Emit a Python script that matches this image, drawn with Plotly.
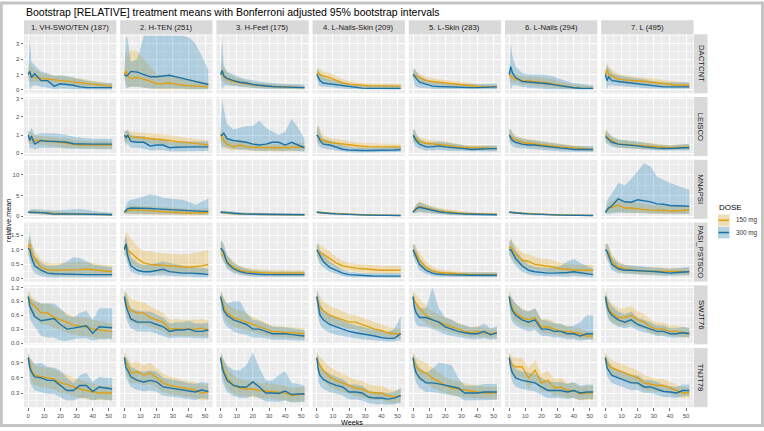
import plotly.graph_objects as go

W, H = 764, 431

WEEKS = [0, 1, 2, 4, 8, 12, 16, 20, 24, 28, 32, 36, 40, 44, 48, 52]
FACETS = ["1. VH-SWO/TEN (187)", "2. H-TEN (251)", "3. H-Feet (175)", "4. L-Nails-Skin (209)",
          "5. L-Skin (283)", "6. L-Nails (294)", "7. L (495)"]
MEASURES = ["DACTCNT", "LEISCO", "MNAPSI", "PASI_PSTSCO", "SWJT76", "TNJT78"]
DOSES = ["150 mg", "300 mg"]
X_TICKS = [0, 10, 20, 30, 40, 50]

# ---------------- DACTCNT ----------------
DACTCNT_150_MEAN = [
    [1.0,1.1,0.9,0.8,0.75,0.7,0.65,0.6,0.55,0.5,0.45,0.4,0.35,0.32,0.28,0.25],
    [1.0,1.25,0.9,0.75,0.8,0.7,0.55,0.4,0.42,0.45,0.38,0.3,0.28,0.25,0.22,0.2],
    [1.0,1.1,0.85,0.7,0.55,0.45,0.4,0.33,0.28,0.25,0.22,0.2,0.18,0.17,0.15,0.15],
    [1.0,1.1,1.0,0.9,0.8,0.6,0.45,0.38,0.32,0.3,0.28,0.27,0.26,0.25,0.25,0.25],
    [1.0,0.95,0.9,0.75,0.6,0.55,0.5,0.45,0.4,0.35,0.3,0.25,0.22,0.2,0.2,0.2],
    [1.0,0.9,0.8,0.7,0.6,0.58,0.55,0.5,0.45,0.38,0.3,0.22,0.15,0.12,0.1,0.1],
    [1.0,1.3,1.0,0.9,0.7,0.65,0.6,0.58,0.55,0.5,0.45,0.4,0.35,0.32,0.3,0.3]]
DACTCNT_150_LO = [
    [0.9,0.5,0.5,0.5,0.5,0.45,0.4,0.35,0.3,0.25,0.2,0.2,0.15,0.12,0.1,0.1],
    [0.9,0.4,0.2,0.2,0.2,0.15,0.1,0.05,0.05,0.05,0.05,0.05,0.05,0.05,0.05,0.05],
    [0.9,0.6,0.5,0.4,0.3,0.25,0.2,0.15,0.12,0.1,0.1,0.08,0.07,0.06,0.05,0.05],
    [0.9,0.8,0.7,0.6,0.5,0.35,0.25,0.2,0.15,0.15,0.12,0.12,0.1,0.1,0.1,0.1],
    [0.9,0.7,0.6,0.5,0.4,0.35,0.3,0.25,0.2,0.18,0.15,0.12,0.1,0.1,0.1,0.1],
    [0.9,0.5,0.5,0.45,0.35,0.3,0.25,0.2,0.15,0.12,0.1,0.08,0.05,0.05,0.05,0.05],
    [0.9,0.8,0.7,0.6,0.45,0.4,0.35,0.33,0.3,0.28,0.25,0.2,0.18,0.15,0.15,0.15]]
DACTCNT_150_HI = [
    [1.2,1.8,1.5,1.3,1.1,1.0,0.95,0.9,0.85,0.8,0.75,0.7,0.6,0.55,0.5,0.45],
    [1.3,2.5,2.2,2.6,2.5,2.0,1.5,1.0,1.0,1.0,0.9,0.8,0.7,0.6,0.55,0.5],
    [1.2,1.8,1.4,1.1,0.85,0.7,0.6,0.5,0.45,0.4,0.38,0.35,0.32,0.3,0.28,0.28],
    [1.3,1.5,1.35,1.2,1.1,0.9,0.7,0.6,0.5,0.45,0.42,0.42,0.4,0.4,0.4,0.4],
    [1.2,1.3,1.2,1.05,0.85,0.75,0.7,0.65,0.6,0.55,0.5,0.42,0.38,0.35,0.33,0.33],
    [1.2,1.5,1.2,1.0,0.9,0.85,0.85,0.8,0.75,0.65,0.55,0.45,0.35,0.3,0.25,0.22],
    [1.2,1.8,1.5,1.3,1.05,0.95,0.9,0.85,0.82,0.78,0.7,0.65,0.6,0.55,0.5,0.5]]
DACTCNT_300_MEAN = [
    [1.0,1.2,0.8,1.05,0.6,0.6,0.25,0.4,0.35,0.3,0.2,0.15,0.15,0.15,0.15,0.15],
    [1.0,0.9,0.95,1.2,1.15,1.0,0.85,0.85,0.9,0.95,0.85,0.75,0.65,0.55,0.45,0.35],
    [1.0,1.25,0.9,0.75,0.6,0.5,0.45,0.35,0.3,0.25,0.22,0.2,0.18,0.17,0.15,0.15],
    [1.0,0.8,0.6,0.45,0.4,0.33,0.28,0.2,0.15,0.12,0.1,0.1,0.1,0.1,0.1,0.1],
    [1.0,0.9,0.75,0.5,0.35,0.25,0.22,0.2,0.18,0.15,0.15,0.15,0.15,0.17,0.18,0.2],
    [1.0,1.5,1.1,0.8,0.55,0.52,0.5,0.45,0.4,0.33,0.26,0.2,0.14,0.11,0.1,0.1],
    [1.0,0.6,0.85,0.6,0.55,0.5,0.45,0.4,0.35,0.3,0.22,0.2,0.2,0.2,0.2,0.2]]
DACTCNT_300_LO = [
    [0.8,0.0,0.2,0.3,0.2,0.15,0.05,0.1,0.08,0.05,0.03,0.02,0.02,0.02,0.02,0.02],
    [0.7,0.1,0.1,0.2,0.2,0.15,0.1,0.1,0.1,0.1,0.1,0.1,0.05,0.05,0.05,0.05],
    [0.8,0.0,0.3,0.3,0.25,0.2,0.15,0.12,0.1,0.08,0.07,0.06,0.05,0.05,0.05,0.05],
    [0.8,0.3,0.25,0.2,0.15,0.12,0.1,0.06,0.04,0.03,0.02,0.02,0.02,0.02,0.02,0.02],
    [0.8,0.3,0.2,0.15,0.1,0.08,0.06,0.05,0.04,0.03,0.03,0.03,0.03,0.04,0.05,0.05],
    [0.7,0.0,0.3,0.3,0.2,0.15,0.1,0.08,0.05,0.04,0.03,0.02,0.02,0.02,0.02,0.02],
    [0.8,0.0,0.3,0.25,0.25,0.2,0.18,0.15,0.12,0.1,0.08,0.07,0.07,0.07,0.07,0.07]]
DACTCNT_300_HI = [
    [1.3,3.3,1.8,1.6,1.2,1.1,0.9,0.95,0.9,0.8,0.7,0.6,0.55,0.5,0.45,0.45],
    [1.5,3.5,3.3,1.8,2.0,3.5,3.5,3.5,3.5,3.5,3.5,3.5,3.4,3.0,2.2,1.3],
    [1.4,3.3,1.6,1.2,1.0,0.8,0.7,0.6,0.55,0.5,0.45,0.42,0.4,0.38,0.36,0.35],
    [1.3,1.3,1.0,0.8,0.7,0.6,0.5,0.4,0.33,0.3,0.28,0.28,0.27,0.27,0.27,0.27],
    [1.3,1.4,1.2,0.9,0.7,0.55,0.5,0.45,0.42,0.4,0.38,0.37,0.37,0.38,0.4,0.42],
    [1.3,3.0,2.2,1.5,1.1,1.0,1.0,1.0,0.95,0.85,0.7,0.55,0.45,0.4,0.35,0.3],
    [1.3,1.6,1.4,1.1,0.95,0.85,0.8,0.75,0.7,0.6,0.55,0.5,0.5,0.5,0.5,0.5]]

# ---------------- LEISCO ----------------
LEISCO_150_MEAN = [
    [0.9,0.85,0.8,0.7,0.7,0.68,0.65,0.6,0.55,0.5,0.45,0.45,0.45,0.45,0.45,0.45],
    [0.9,0.95,0.95,0.9,0.88,0.85,0.82,0.8,0.75,0.7,0.65,0.62,0.6,0.55,0.5,0.45],
    [1.0,0.8,0.7,0.5,0.35,0.45,0.35,0.32,0.3,0.3,0.3,0.3,0.3,0.32,0.33,0.35],
    [1.0,0.9,0.8,0.7,0.6,0.55,0.5,0.45,0.4,0.38,0.36,0.35,0.35,0.35,0.35,0.35],
    [0.95,0.9,0.8,0.65,0.55,0.52,0.5,0.45,0.4,0.35,0.3,0.3,0.3,0.3,0.28,0.25],
    [1.0,0.9,0.85,0.75,0.6,0.55,0.5,0.45,0.4,0.38,0.35,0.32,0.3,0.25,0.22,0.2],
    [1.0,0.9,0.8,0.7,0.5,0.48,0.45,0.42,0.4,0.38,0.35,0.32,0.3,0.32,0.34,0.35]]
LEISCO_150_LO = [
    [0.6,0.5,0.5,0.45,0.45,0.42,0.4,0.35,0.3,0.28,0.25,0.25,0.25,0.25,0.25,0.25],
    [0.6,0.6,0.65,0.65,0.6,0.58,0.55,0.5,0.48,0.45,0.4,0.38,0.35,0.3,0.28,0.25],
    [0.7,0.4,0.3,0.2,0.15,0.2,0.15,0.12,0.1,0.1,0.1,0.1,0.1,0.1,0.1,0.12],
    [0.7,0.6,0.5,0.45,0.4,0.35,0.3,0.28,0.25,0.22,0.2,0.2,0.2,0.2,0.2,0.2],
    [0.7,0.6,0.55,0.45,0.38,0.35,0.32,0.28,0.25,0.2,0.18,0.18,0.18,0.17,0.16,0.15],
    [0.7,0.6,0.6,0.5,0.4,0.35,0.32,0.28,0.25,0.22,0.2,0.18,0.16,0.14,0.12,0.1],
    [0.7,0.6,0.55,0.45,0.32,0.3,0.28,0.26,0.24,0.22,0.2,0.18,0.17,0.18,0.2,0.2]]
LEISCO_150_HI = [
    [1.2,1.2,1.1,1.0,0.95,0.92,0.9,0.85,0.8,0.72,0.68,0.66,0.65,0.65,0.65,0.65],
    [1.2,1.25,1.25,1.2,1.15,1.12,1.1,1.08,1.05,1.0,0.92,0.88,0.85,0.8,0.75,0.7],
    [1.3,1.3,1.1,0.85,0.65,0.75,0.6,0.55,0.52,0.5,0.5,0.5,0.5,0.52,0.55,0.58],
    [1.3,1.6,1.3,1.0,0.85,0.78,0.72,0.65,0.6,0.56,0.54,0.52,0.52,0.52,0.52,0.52],
    [1.2,1.3,1.1,0.9,0.75,0.72,0.7,0.65,0.58,0.52,0.45,0.45,0.45,0.44,0.42,0.4],
    [1.3,1.3,1.15,1.0,0.85,0.78,0.72,0.65,0.6,0.56,0.52,0.48,0.45,0.4,0.35,0.32],
    [1.3,1.3,1.1,0.95,0.75,0.7,0.66,0.62,0.6,0.56,0.52,0.48,0.45,0.47,0.5,0.52]]
LEISCO_300_MEAN = [
    [1.0,0.7,0.95,0.5,0.7,0.65,0.65,0.62,0.6,0.52,0.5,0.5,0.5,0.5,0.5,0.5],
    [1.0,0.85,1.0,0.65,0.6,0.6,0.4,0.45,0.45,0.3,0.33,0.35,0.35,0.35,0.35,0.35],
    [1.0,1.0,1.1,0.8,0.7,0.65,0.6,0.5,0.45,0.5,0.6,0.6,0.45,0.6,0.45,0.3],
    [1.0,0.9,0.7,0.5,0.45,0.35,0.22,0.18,0.15,0.15,0.15,0.15,0.15,0.17,0.18,0.2],
    [1.0,0.85,0.7,0.5,0.35,0.35,0.4,0.35,0.3,0.28,0.25,0.2,0.22,0.25,0.25,0.25],
    [1.0,0.8,0.7,0.6,0.5,0.45,0.45,0.4,0.35,0.3,0.28,0.25,0.2,0.2,0.2,0.2],
    [0.9,0.85,0.75,0.6,0.5,0.48,0.45,0.4,0.35,0.3,0.28,0.26,0.25,0.27,0.3,0.3]]
LEISCO_300_LO = [
    [0.7,0.2,0.3,0.2,0.3,0.3,0.3,0.28,0.25,0.22,0.22,0.22,0.22,0.22,0.22,0.22],
    [0.7,0.4,0.5,0.3,0.3,0.25,0.15,0.18,0.18,0.1,0.12,0.12,0.12,0.12,0.12,0.12],
    [0.6,0.2,0.4,0.3,0.25,0.2,0.2,0.15,0.12,0.12,0.15,0.15,0.12,0.15,0.12,0.08],
    [0.7,0.4,0.35,0.25,0.2,0.15,0.08,0.05,0.04,0.04,0.04,0.04,0.04,0.05,0.06,0.07],
    [0.7,0.4,0.35,0.25,0.15,0.15,0.18,0.15,0.12,0.1,0.1,0.08,0.08,0.1,0.1,0.1],
    [0.7,0.45,0.4,0.3,0.25,0.22,0.2,0.18,0.15,0.12,0.1,0.08,0.07,0.07,0.07,0.07],
    [0.6,0.5,0.45,0.35,0.3,0.28,0.25,0.22,0.2,0.18,0.15,0.13,0.12,0.13,0.15,0.15]]
LEISCO_300_HI = [
    [1.2,1.2,1.4,1.0,1.1,1.1,1.1,1.05,1.0,0.9,0.85,0.82,0.8,0.8,0.8,0.8],
    [1.3,1.2,1.3,1.0,0.95,0.95,0.75,0.8,0.8,0.6,0.62,0.65,0.65,0.65,0.65,0.65],
    [1.4,3.0,2.4,1.6,1.3,1.4,1.5,1.5,1.8,1.4,1.2,1.0,1.2,1.9,1.4,0.8],
    [1.3,1.5,1.1,0.8,0.7,0.6,0.42,0.35,0.3,0.3,0.3,0.3,0.3,0.32,0.34,0.36],
    [1.3,1.3,1.05,0.8,0.6,0.6,0.65,0.6,0.52,0.48,0.45,0.38,0.4,0.42,0.42,0.42],
    [1.3,1.3,1.1,0.9,0.8,0.72,0.7,0.65,0.6,0.55,0.5,0.45,0.4,0.4,0.4,0.4],
    [1.2,1.2,1.1,0.9,0.75,0.72,0.7,0.65,0.58,0.52,0.48,0.45,0.43,0.46,0.5,0.52]]

# ---------------- MNAPSI ----------------
MNAPSI_150_MEAN = [
    [1.0,1.0,1.0,0.95,0.9,0.8,0.65,0.6,0.6,0.55,0.55,0.5,0.5,0.45,0.45,0.4],
    [1.0,1.2,1.4,1.6,1.5,1.4,1.3,1.2,1.1,1.0,0.95,0.9,0.8,0.8,0.85,0.9],
    [1.0,1.0,0.95,0.85,0.7,0.6,0.55,0.5,0.45,0.45,0.4,0.4,0.4,0.4,0.4,0.4],
    [1.0,0.95,0.9,0.85,0.75,0.65,0.55,0.5,0.45,0.4,0.35,0.3,0.28,0.25,0.22,0.2],
    [1.0,1.5,2.0,2.4,2.0,1.6,1.3,1.1,0.9,0.8,0.7,0.6,0.55,0.5,0.5,0.5],
    [1.0,0.95,0.9,0.85,0.75,0.65,0.55,0.5,0.45,0.4,0.35,0.3,0.28,0.25,0.22,0.2],
    [1.0,1.6,2.0,2.2,2.7,2.0,2.0,1.8,1.6,1.5,1.4,1.5,1.3,1.3,1.4,1.6]]
MNAPSI_150_LO = [
    [0.7,0.6,0.6,0.5,0.45,0.4,0.3,0.3,0.3,0.25,0.25,0.25,0.25,0.2,0.2,0.2],
    [0.7,0.5,0.5,0.5,0.45,0.4,0.35,0.3,0.3,0.25,0.25,0.25,0.2,0.2,0.2,0.25],
    [0.7,0.6,0.55,0.5,0.4,0.35,0.3,0.25,0.22,0.22,0.2,0.2,0.2,0.2,0.2,0.2],
    [0.8,0.7,0.65,0.6,0.5,0.45,0.35,0.3,0.28,0.25,0.22,0.18,0.16,0.14,0.12,0.1],
    [0.7,0.8,1.0,1.2,1.0,0.8,0.6,0.5,0.4,0.35,0.3,0.25,0.22,0.2,0.2,0.2],
    [0.8,0.7,0.65,0.6,0.5,0.45,0.35,0.3,0.28,0.25,0.22,0.18,0.16,0.14,0.12,0.1],
    [0.7,0.8,1.0,1.0,1.2,0.9,0.9,0.8,0.7,0.6,0.6,0.6,0.5,0.5,0.55,0.6]]
MNAPSI_150_HI = [
    [1.3,1.4,1.5,1.5,1.4,1.3,1.1,1.0,1.0,0.95,0.9,0.85,0.8,0.75,0.75,0.7],
    [1.3,2.0,2.4,2.7,2.6,2.5,2.4,2.3,2.2,2.0,1.9,1.8,1.7,1.7,1.8,2.0],
    [1.3,1.4,1.35,1.25,1.05,0.9,0.85,0.8,0.7,0.7,0.65,0.65,0.65,0.65,0.65,0.65],
    [1.2,1.2,1.15,1.1,1.0,0.85,0.75,0.7,0.62,0.55,0.5,0.45,0.42,0.38,0.34,0.3],
    [1.3,2.3,3.0,3.6,3.0,2.5,2.1,1.8,1.5,1.3,1.2,1.0,0.9,0.85,0.85,0.85],
    [1.2,1.2,1.15,1.1,1.0,0.85,0.75,0.7,0.62,0.55,0.5,0.45,0.42,0.38,0.34,0.3],
    [1.3,2.6,3.2,3.6,4.5,3.6,3.6,3.3,3.0,2.8,2.6,2.7,2.5,2.5,2.6,2.8]]
MNAPSI_300_MEAN = [
    [1.0,1.0,1.0,1.0,0.9,0.75,0.55,0.6,0.6,0.55,0.5,0.5,0.45,0.45,0.45,0.4],
    [1.0,1.5,1.8,2.0,2.0,2.0,1.9,1.8,1.7,1.6,1.5,1.4,1.3,1.25,1.2,1.2],
    [1.0,1.0,0.95,0.9,0.75,0.6,0.55,0.52,0.5,0.48,0.45,0.42,0.4,0.4,0.4,0.4],
    [1.0,0.95,0.9,0.82,0.7,0.6,0.5,0.45,0.4,0.35,0.3,0.28,0.25,0.22,0.2,0.2],
    [1.0,1.4,1.8,2.2,1.8,1.4,1.1,0.9,0.75,0.65,0.55,0.5,0.45,0.42,0.4,0.4],
    [1.0,0.95,0.9,0.85,0.7,0.6,0.5,0.45,0.4,0.35,0.3,0.28,0.25,0.22,0.2,0.2],
    [1.0,1.6,2.0,2.5,4.2,3.5,3.4,4.0,3.8,3.5,3.0,2.9,2.6,2.6,2.5,2.4]]
MNAPSI_300_LO = [
    [0.7,0.6,0.6,0.5,0.4,0.35,0.25,0.25,0.25,0.22,0.2,0.2,0.18,0.18,0.18,0.15],
    [0.7,0.6,0.6,0.6,0.6,0.6,0.55,0.5,0.5,0.45,0.45,0.4,0.4,0.4,0.4,0.4],
    [0.7,0.6,0.55,0.5,0.4,0.3,0.28,0.25,0.25,0.22,0.2,0.2,0.2,0.2,0.2,0.2],
    [0.8,0.7,0.65,0.55,0.45,0.4,0.3,0.28,0.25,0.2,0.18,0.15,0.13,0.12,0.1,0.1],
    [0.7,0.7,0.9,1.0,0.8,0.6,0.5,0.4,0.3,0.28,0.25,0.22,0.2,0.18,0.15,0.15],
    [0.8,0.7,0.65,0.6,0.45,0.4,0.3,0.28,0.25,0.2,0.18,0.15,0.13,0.12,0.1,0.1],
    [0.7,0.6,0.6,0.7,0.9,0.8,0.8,0.8,0.8,0.7,0.7,0.6,0.6,0.6,0.6,0.6]]
MNAPSI_300_HI = [
    [1.3,1.5,1.7,1.8,1.7,1.5,1.4,1.5,1.6,1.7,1.8,1.6,1.3,1.1,1.0,0.9],
    [1.4,2.8,3.6,4.0,4.3,4.8,5.3,5.0,4.5,4.3,4.1,4.0,3.5,2.8,3.5,4.3],
    [1.3,1.4,1.35,1.3,1.15,0.95,0.9,0.85,0.8,0.78,0.75,0.72,0.7,0.7,0.7,0.7],
    [1.2,1.2,1.15,1.08,0.95,0.82,0.7,0.64,0.58,0.52,0.46,0.42,0.4,0.36,0.33,0.32],
    [1.3,2.2,2.8,3.4,2.8,2.2,1.8,1.5,1.25,1.1,0.95,0.85,0.8,0.75,0.7,0.7],
    [1.2,1.2,1.15,1.1,0.95,0.82,0.7,0.64,0.58,0.52,0.46,0.42,0.4,0.36,0.33,0.32],
    [1.3,3.5,4.5,5.5,8.0,7.5,9.0,11.0,12.8,12.0,9.5,8.8,8.0,7.5,7.0,6.4]]

# ---------------- PASI_PSTSCO ----------------
PASI_150_MEAN = [
    [1.1,1.2,0.9,0.7,0.4,0.32,0.3,0.3,0.3,0.3,0.32,0.34,0.32,0.3,0.28,0.25],
    [1.05,1.2,1.0,0.9,0.7,0.55,0.5,0.48,0.47,0.45,0.43,0.42,0.4,0.42,0.45,0.5],
    [1.0,0.95,0.8,0.6,0.4,0.3,0.25,0.23,0.22,0.21,0.2,0.2,0.2,0.2,0.2,0.2],
    [1.0,0.95,0.9,0.85,0.7,0.55,0.45,0.4,0.37,0.35,0.33,0.31,0.3,0.3,0.3,0.3],
    [1.0,0.95,0.85,0.65,0.4,0.28,0.22,0.2,0.18,0.17,0.16,0.15,0.15,0.15,0.15,0.15],
    [1.05,1.1,1.0,0.85,0.65,0.6,0.5,0.47,0.45,0.4,0.35,0.33,0.3,0.3,0.3,0.3],
    [1.0,0.95,0.9,0.6,0.4,0.35,0.3,0.28,0.27,0.27,0.26,0.26,0.26,0.25,0.25,0.25]]
PASI_150_LO = [
    [0.8,0.8,0.6,0.4,0.2,0.15,0.12,0.12,0.12,0.12,0.12,0.12,0.12,0.1,0.1,0.1],
    [0.8,0.8,0.6,0.5,0.4,0.3,0.25,0.22,0.2,0.2,0.18,0.18,0.17,0.17,0.18,0.2],
    [0.8,0.7,0.6,0.4,0.25,0.18,0.14,0.12,0.11,0.1,0.1,0.1,0.1,0.1,0.1,0.1],
    [0.8,0.7,0.65,0.6,0.5,0.38,0.3,0.26,0.24,0.22,0.2,0.19,0.18,0.18,0.18,0.18],
    [0.8,0.75,0.65,0.45,0.25,0.17,0.13,0.11,0.1,0.09,0.08,0.08,0.08,0.08,0.08,0.08],
    [0.8,0.8,0.7,0.55,0.4,0.35,0.3,0.27,0.25,0.22,0.18,0.17,0.15,0.15,0.15,0.15],
    [0.8,0.7,0.65,0.4,0.25,0.2,0.17,0.16,0.15,0.15,0.14,0.14,0.14,0.13,0.13,0.13]]
PASI_150_HI = [
    [1.3,1.45,1.2,1.0,0.65,0.55,0.52,0.55,0.56,0.57,0.58,0.58,0.55,0.5,0.47,0.45],
    [1.3,1.6,1.55,1.4,1.1,0.95,0.95,0.9,0.88,0.85,0.85,0.85,0.85,0.9,0.95,1.0],
    [1.25,1.25,1.05,0.85,0.6,0.45,0.38,0.35,0.33,0.32,0.31,0.3,0.3,0.3,0.3,0.3],
    [1.2,1.25,1.15,1.1,0.95,0.75,0.62,0.55,0.52,0.5,0.48,0.46,0.45,0.45,0.45,0.45],
    [1.2,1.2,1.1,0.9,0.6,0.42,0.33,0.3,0.27,0.26,0.25,0.24,0.24,0.24,0.24,0.24],
    [1.3,1.4,1.3,1.15,0.9,0.85,0.75,0.7,0.68,0.62,0.55,0.52,0.5,0.5,0.5,0.48],
    [1.2,1.25,1.15,0.85,0.6,0.5,0.45,0.42,0.4,0.4,0.39,0.39,0.39,0.38,0.38,0.38]]
PASI_300_MEAN = [
    [1.05,1.0,0.75,0.45,0.3,0.2,0.18,0.17,0.16,0.16,0.16,0.15,0.15,0.15,0.15,0.15],
    [1.0,1.2,0.8,0.45,0.3,0.25,0.25,0.3,0.33,0.25,0.22,0.2,0.2,0.2,0.18,0.15],
    [1.05,1.0,0.9,0.55,0.35,0.25,0.2,0.17,0.16,0.15,0.15,0.15,0.15,0.15,0.15,0.15],
    [1.0,0.9,0.75,0.6,0.4,0.3,0.2,0.15,0.13,0.12,0.11,0.1,0.1,0.1,0.1,0.1],
    [1.0,0.9,0.75,0.5,0.3,0.2,0.16,0.15,0.14,0.14,0.13,0.13,0.13,0.13,0.13,0.13],
    [1.0,1.0,0.9,0.7,0.45,0.3,0.25,0.22,0.2,0.2,0.2,0.22,0.25,0.22,0.2,0.15],
    [1.0,0.95,0.8,0.5,0.35,0.3,0.3,0.28,0.27,0.26,0.25,0.22,0.2,0.22,0.24,0.25]]
PASI_300_LO = [
    [0.8,0.6,0.4,0.2,0.1,0.06,0.05,0.05,0.05,0.05,0.05,0.05,0.05,0.05,0.05,0.05],
    [0.8,0.8,0.5,0.25,0.15,0.12,0.1,0.12,0.13,0.1,0.08,0.07,0.07,0.07,0.06,0.05],
    [0.8,0.7,0.6,0.35,0.2,0.14,0.1,0.08,0.07,0.07,0.07,0.07,0.07,0.07,0.07,0.07],
    [0.8,0.65,0.5,0.4,0.25,0.18,0.1,0.07,0.06,0.05,0.05,0.04,0.04,0.04,0.04,0.04],
    [0.8,0.65,0.5,0.3,0.17,0.1,0.08,0.07,0.06,0.06,0.06,0.06,0.06,0.06,0.06,0.06],
    [0.8,0.7,0.6,0.45,0.25,0.15,0.12,0.1,0.08,0.08,0.08,0.08,0.1,0.08,0.07,0.05],
    [0.8,0.7,0.55,0.3,0.2,0.17,0.17,0.15,0.14,0.13,0.12,0.1,0.09,0.1,0.12,0.13]]
PASI_300_HI = [
    [1.3,1.6,1.2,0.8,0.55,0.45,0.45,0.5,0.6,0.75,0.72,0.6,0.5,0.45,0.42,0.4],
    [1.3,1.5,1.2,0.75,0.55,0.48,0.5,0.55,0.6,0.55,0.5,0.45,0.42,0.4,0.38,0.35],
    [1.3,1.3,1.2,0.8,0.55,0.42,0.35,0.3,0.28,0.26,0.26,0.26,0.26,0.26,0.26,0.26],
    [1.2,1.15,1.0,0.85,0.6,0.45,0.32,0.25,0.22,0.2,0.2,0.2,0.2,0.2,0.2,0.2],
    [1.2,1.15,1.0,0.72,0.45,0.32,0.26,0.24,0.23,0.22,0.22,0.22,0.22,0.22,0.22,0.22],
    [1.25,1.35,1.25,1.0,0.7,0.5,0.42,0.4,0.38,0.4,0.45,0.6,0.68,0.55,0.45,0.35],
    [1.2,1.2,1.1,0.75,0.55,0.48,0.46,0.44,0.42,0.4,0.4,0.38,0.35,0.37,0.4,0.42]]

# ---------------- SWJT76 ----------------
SWJT76_150_MEAN = [
    [1.0,0.92,0.85,0.8,0.65,0.65,0.55,0.5,0.45,0.38,0.36,0.35,0.3,0.28,0.26,0.25],
    [1.0,0.9,0.8,0.7,0.65,0.65,0.55,0.5,0.45,0.3,0.31,0.3,0.3,0.3,0.32,0.28],
    [1.0,0.9,0.8,0.65,0.55,0.5,0.45,0.4,0.35,0.3,0.25,0.24,0.23,0.22,0.21,0.2],
    [1.0,0.85,0.78,0.7,0.6,0.55,0.5,0.45,0.45,0.4,0.35,0.3,0.27,0.22,0.2,0.2],
    [1.0,0.9,0.85,0.75,0.6,0.5,0.45,0.4,0.35,0.3,0.25,0.22,0.25,0.22,0.2,0.22],
    [1.0,0.85,0.75,0.65,0.55,0.5,0.55,0.35,0.35,0.3,0.25,0.25,0.22,0.2,0.15,0.15],
    [1.0,0.85,0.75,0.65,0.55,0.55,0.6,0.5,0.45,0.35,0.3,0.3,0.25,0.25,0.22,0.22]]
SWJT76_150_LO = [
    [0.85,0.7,0.6,0.55,0.4,0.4,0.32,0.28,0.22,0.18,0.15,0.15,0.12,0.1,0.1,0.1],
    [0.85,0.7,0.55,0.45,0.4,0.4,0.35,0.3,0.25,0.15,0.15,0.15,0.15,0.15,0.15,0.12],
    [0.85,0.7,0.6,0.45,0.35,0.32,0.28,0.24,0.2,0.16,0.13,0.12,0.11,0.1,0.1,0.09],
    [0.85,0.65,0.55,0.5,0.42,0.38,0.35,0.3,0.3,0.25,0.2,0.18,0.15,0.12,0.1,0.1],
    [0.85,0.7,0.62,0.55,0.42,0.34,0.3,0.26,0.22,0.18,0.15,0.13,0.14,0.12,0.11,0.12],
    [0.85,0.65,0.55,0.45,0.38,0.34,0.35,0.22,0.2,0.18,0.14,0.14,0.12,0.1,0.08,0.08],
    [0.85,0.65,0.55,0.45,0.38,0.38,0.42,0.34,0.3,0.22,0.18,0.18,0.15,0.14,0.12,0.12]]
SWJT76_150_HI = [
    [1.15,1.1,1.0,0.95,0.85,0.85,0.78,0.72,0.65,0.58,0.55,0.55,0.5,0.48,0.45,0.42],
    [1.15,1.1,1.05,0.95,0.9,0.88,0.8,0.72,0.65,0.5,0.52,0.5,0.5,0.5,0.52,0.48],
    [1.15,1.05,0.98,0.85,0.75,0.7,0.63,0.57,0.5,0.44,0.38,0.36,0.35,0.34,0.33,0.32],
    [1.15,1.05,1.0,0.9,0.8,0.75,0.68,0.62,0.6,0.55,0.5,0.45,0.4,0.35,0.32,0.32],
    [1.15,1.08,1.05,0.95,0.8,0.68,0.62,0.56,0.5,0.44,0.38,0.34,0.37,0.33,0.3,0.33],
    [1.15,1.05,0.95,0.85,0.75,0.68,0.75,0.52,0.52,0.45,0.38,0.38,0.34,0.32,0.25,0.25],
    [1.15,1.05,0.95,0.85,0.75,0.75,0.8,0.68,0.62,0.5,0.44,0.44,0.38,0.37,0.34,0.34]]
SWJT76_300_MEAN = [
    [1.0,0.8,0.72,0.57,0.48,0.5,0.53,0.4,0.3,0.32,0.35,0.37,0.21,0.35,0.34,0.33],
    [1.0,0.8,0.7,0.52,0.45,0.45,0.45,0.4,0.35,0.25,0.28,0.28,0.3,0.25,0.25,0.28],
    [1.0,0.85,0.7,0.6,0.5,0.45,0.4,0.3,0.3,0.25,0.2,0.2,0.2,0.18,0.16,0.15],
    [1.0,0.8,0.6,0.5,0.4,0.35,0.3,0.25,0.22,0.2,0.18,0.15,0.12,0.1,0.1,0.2],
    [1.0,0.75,0.65,0.55,0.55,0.5,0.45,0.35,0.3,0.25,0.22,0.2,0.2,0.25,0.18,0.22],
    [1.0,0.8,0.7,0.6,0.5,0.45,0.5,0.3,0.3,0.25,0.25,0.2,0.2,0.15,0.2,0.2],
    [1.0,0.8,0.7,0.6,0.5,0.45,0.5,0.4,0.35,0.3,0.25,0.25,0.2,0.2,0.22,0.2]]
SWJT76_300_LO = [
    [0.8,0.55,0.45,0.35,0.15,0.12,0.12,0.05,0.05,0.08,0.1,0.1,0.05,0.08,0.08,0.08],
    [0.8,0.55,0.45,0.32,0.25,0.25,0.25,0.2,0.15,0.1,0.12,0.12,0.12,0.1,0.1,0.1],
    [0.8,0.6,0.45,0.35,0.25,0.2,0.18,0.12,0.12,0.1,0.07,0.07,0.07,0.06,0.05,0.05],
    [0.8,0.55,0.4,0.3,0.22,0.18,0.15,0.12,0.1,0.08,0.06,0.05,0.04,0.03,0.03,0.06],
    [0.8,0.5,0.4,0.35,0.35,0.3,0.25,0.18,0.15,0.12,0.1,0.08,0.08,0.1,0.07,0.08],
    [0.8,0.55,0.45,0.38,0.3,0.25,0.28,0.15,0.15,0.12,0.12,0.08,0.08,0.05,0.07,0.07],
    [0.8,0.6,0.5,0.42,0.35,0.32,0.35,0.27,0.23,0.2,0.15,0.15,0.12,0.12,0.13,0.12]]
SWJT76_300_HI = [
    [1.1,1.0,0.95,0.9,0.85,0.85,0.85,0.75,0.6,0.55,0.65,0.7,0.5,0.75,0.75,0.75],
    [1.1,1.05,0.95,0.75,0.7,0.68,0.68,0.62,0.55,0.42,0.45,0.45,0.48,0.42,0.42,0.45],
    [1.1,1.05,0.95,0.85,0.9,0.9,0.65,0.5,0.48,0.42,0.35,0.34,0.34,0.32,0.3,0.28],
    [1.15,1.05,0.85,0.72,0.6,0.55,0.48,0.42,0.38,0.35,0.32,0.3,0.26,0.24,0.3,0.57],
    [1.1,0.95,0.85,0.75,0.75,1.2,0.75,0.55,0.5,0.42,0.38,0.34,0.34,0.42,0.32,0.36],
    [1.1,1.0,0.95,0.85,0.72,0.68,0.75,0.5,0.48,0.42,0.42,0.35,0.38,0.45,0.6,0.6],
    [1.1,1.0,0.9,0.8,0.68,0.62,0.68,0.55,0.5,0.45,0.38,0.38,0.32,0.32,0.35,0.32]]

# ---------------- TNJT78 ----------------
TNJT78_150_MEAN = [
    [1.0,0.85,0.75,0.65,0.62,0.6,0.58,0.5,0.47,0.42,0.38,0.35,0.32,0.3,0.3,0.3],
    [1.0,0.9,0.85,0.7,0.72,0.65,0.7,0.6,0.5,0.45,0.43,0.4,0.38,0.36,0.3,0.32],
    [1.0,0.85,0.75,0.6,0.45,0.4,0.38,0.38,0.35,0.34,0.33,0.32,0.3,0.25,0.27,0.28],
    [1.0,0.9,0.85,0.75,0.62,0.55,0.5,0.45,0.4,0.38,0.32,0.3,0.3,0.25,0.22,0.25],
    [1.0,0.9,0.82,0.75,0.7,0.6,0.52,0.45,0.4,0.38,0.35,0.33,0.32,0.3,0.3,0.3],
    [1.0,0.9,0.85,0.82,0.82,0.6,0.75,0.5,0.55,0.4,0.42,0.35,0.35,0.28,0.3,0.3],
    [1.0,0.9,0.85,0.8,0.75,0.7,0.65,0.6,0.5,0.48,0.45,0.45,0.4,0.35,0.3,0.3]]
TNJT78_150_LO = [
    [0.9,0.7,0.55,0.45,0.42,0.4,0.38,0.3,0.28,0.24,0.2,0.18,0.16,0.15,0.15,0.15],
    [0.9,0.7,0.65,0.5,0.5,0.45,0.48,0.4,0.32,0.28,0.26,0.24,0.22,0.2,0.15,0.16],
    [0.9,0.65,0.55,0.4,0.28,0.24,0.22,0.22,0.2,0.19,0.18,0.17,0.16,0.12,0.13,0.14],
    [0.9,0.7,0.65,0.55,0.42,0.36,0.32,0.28,0.24,0.22,0.18,0.16,0.16,0.12,0.1,0.12],
    [0.9,0.7,0.62,0.55,0.5,0.42,0.35,0.3,0.26,0.24,0.22,0.2,0.19,0.18,0.18,0.18],
    [0.9,0.7,0.65,0.6,0.6,0.4,0.52,0.32,0.36,0.24,0.25,0.2,0.2,0.15,0.16,0.16],
    [0.9,0.75,0.7,0.65,0.6,0.55,0.5,0.45,0.36,0.34,0.32,0.32,0.28,0.24,0.2,0.2]]
TNJT78_150_HI = [
    [1.1,1.0,0.95,0.85,0.82,0.8,0.78,0.7,0.67,0.6,0.56,0.52,0.48,0.45,0.45,0.45],
    [1.1,1.05,1.02,0.9,0.92,0.85,0.9,0.8,0.68,0.62,0.6,0.56,0.54,0.52,0.46,0.48],
    [1.1,1.0,0.95,0.8,0.65,0.58,0.55,0.55,0.5,0.5,0.48,0.47,0.45,0.4,0.42,0.43],
    [1.1,1.05,1.02,0.95,0.82,0.74,0.68,0.62,0.56,0.54,0.47,0.45,0.45,0.38,0.35,0.38],
    [1.1,1.05,1.0,0.95,0.9,0.8,0.7,0.62,0.56,0.53,0.5,0.47,0.46,0.43,0.43,0.43],
    [1.1,1.05,1.02,1.0,1.0,0.8,0.95,0.68,0.74,0.58,0.6,0.5,0.5,0.42,0.45,0.45],
    [1.1,1.05,1.0,0.95,0.9,0.85,0.8,0.75,0.65,0.62,0.58,0.58,0.52,0.47,0.42,0.42]]
TNJT78_300_MEAN = [
    [1.0,0.8,0.72,0.62,0.6,0.55,0.55,0.45,0.35,0.35,0.45,0.45,0.33,0.42,0.4,0.38],
    [1.0,0.8,0.75,0.62,0.55,0.52,0.55,0.52,0.42,0.4,0.38,0.36,0.34,0.32,0.36,0.33],
    [1.0,0.8,0.7,0.55,0.45,0.42,0.42,0.52,0.42,0.3,0.3,0.29,0.34,0.27,0.28,0.28],
    [1.0,0.75,0.65,0.57,0.5,0.45,0.42,0.32,0.32,0.3,0.22,0.2,0.2,0.18,0.2,0.25],
    [1.0,0.8,0.7,0.6,0.5,0.5,0.48,0.45,0.42,0.4,0.3,0.3,0.3,0.32,0.32,0.32],
    [1.0,0.8,0.7,0.6,0.55,0.52,0.5,0.42,0.35,0.35,0.35,0.32,0.35,0.3,0.32,0.32],
    [1.0,0.8,0.75,0.65,0.6,0.55,0.5,0.5,0.42,0.42,0.38,0.33,0.32,0.3,0.35,0.35]]
TNJT78_300_LO = [
    [0.9,0.55,0.45,0.35,0.32,0.28,0.28,0.22,0.15,0.15,0.2,0.2,0.15,0.18,0.16,0.15],
    [0.9,0.6,0.55,0.42,0.36,0.33,0.35,0.32,0.25,0.23,0.21,0.2,0.18,0.16,0.2,0.17],
    [0.9,0.55,0.45,0.32,0.24,0.2,0.2,0.25,0.2,0.13,0.13,0.12,0.15,0.11,0.12,0.12],
    [0.9,0.55,0.45,0.38,0.32,0.28,0.25,0.17,0.17,0.15,0.1,0.08,0.08,0.07,0.08,0.1],
    [0.9,0.6,0.5,0.4,0.32,0.32,0.3,0.27,0.25,0.23,0.15,0.15,0.15,0.16,0.16,0.16],
    [0.9,0.62,0.52,0.42,0.38,0.35,0.33,0.26,0.2,0.2,0.2,0.18,0.2,0.16,0.18,0.18],
    [0.9,0.62,0.58,0.5,0.45,0.4,0.36,0.36,0.3,0.3,0.26,0.22,0.21,0.2,0.24,0.24]]
TNJT78_300_HI = [
    [1.1,1.0,0.95,0.88,0.9,0.82,0.8,0.75,0.6,0.5,0.65,0.7,0.52,0.62,0.6,0.6],
    [1.1,1.0,0.95,0.82,0.75,0.72,0.75,0.72,0.6,0.58,0.56,0.53,0.5,0.48,0.52,0.5],
    [1.1,1.05,0.95,0.85,0.75,0.75,0.85,1.1,0.8,0.55,0.55,0.65,0.73,0.5,0.48,0.45],
    [1.1,0.95,0.85,0.76,0.68,0.62,0.58,0.47,0.47,0.45,0.35,0.32,0.32,0.3,0.32,0.4],
    [1.1,1.0,0.9,0.8,0.7,0.78,0.9,0.88,0.85,0.6,0.45,0.45,0.45,0.48,0.48,0.48],
    [1.1,1.0,0.9,0.78,0.72,0.7,0.68,0.6,0.52,0.52,0.52,0.48,0.52,0.45,0.47,0.47],
    [1.1,0.98,0.92,0.82,0.76,0.7,0.65,0.65,0.56,0.56,0.52,0.46,0.44,0.42,0.47,0.47]]

# per-row y axis settings (range, major step, label format)
Y_RANGES = [[-0.22, 3.6], [-0.16, 3.09], [-0.6, 13.6], [-0.09, 1.93], [-0.03, 1.245], [0.02, 1.19]]
Y_DTICK = [1, 1, 5, 0.5, 0.3, 0.3]
Y_FORMAT = ["d", "d", "d", ".1f", ".1f", ".1f"]

SERIES = {
    "DACTCNT": [(DACTCNT_150_MEAN, DACTCNT_150_LO, DACTCNT_150_HI), (DACTCNT_300_MEAN, DACTCNT_300_LO, DACTCNT_300_HI)],
    "LEISCO": [(LEISCO_150_MEAN, LEISCO_150_LO, LEISCO_150_HI), (LEISCO_300_MEAN, LEISCO_300_LO, LEISCO_300_HI)],
    "MNAPSI": [(MNAPSI_150_MEAN, MNAPSI_150_LO, MNAPSI_150_HI), (MNAPSI_300_MEAN, MNAPSI_300_LO, MNAPSI_300_HI)],
    "PASI_PSTSCO": [(PASI_150_MEAN, PASI_150_LO, PASI_150_HI), (PASI_300_MEAN, PASI_300_LO, PASI_300_HI)],
    "SWJT76": [(SWJT76_150_MEAN, SWJT76_150_LO, SWJT76_150_HI), (SWJT76_300_MEAN, SWJT76_300_LO, SWJT76_300_HI)],
    "TNJT78": [(TNJT78_150_MEAN, TNJT78_150_LO, TNJT78_150_HI), (TNJT78_300_MEAN, TNJT78_300_LO, TNJT78_300_HI)],
}

LINE_COLORS = ["#E0A010", "#1B72A8"]
FILL_COLORS = ["rgba(230,159,0,0.25)", "rgba(0,114,178,0.25)"]

# ---------------- layout geometry (pixels) ----------------
PX0, PW, PGAP = 24.0, 92.3, 3.9
PY0, PH, PVGAP = 33.5, 59.5, 3.7
STRIP_H = 14.0
STRIP_W = 13.5


def fx(px):
    return px / W


def fy(py):
    return 1 - py / H


FONT = "Liberation Sans, Arial, sans-serif"

fig = go.Figure()
layout = dict(
    width=W, height=H, margin=dict(l=0, r=0, t=0, b=0),
    paper_bgcolor="white", plot_bgcolor="#EBEBEB", showlegend=False,
    font=dict(family=FONT),
)
shapes = []
annotations = []

for r, m in enumerate(MEASURES):
    top = PY0 + r * (PH + PVGAP)
    bot = top + PH
    for c in range(len(FACETS)):
        left = PX0 + c * (PW + PGAP)
        right = left + PW
        idx = r * len(FACETS) + c + 1
        sx = "" if idx == 1 else str(idx)
        xa, ya = "x" + sx, "y" + sx
        for d in range(2):
            mean, lo, hi = SERIES[m][d]
            fig.add_trace(go.Scatter(
                x=WEEKS + WEEKS[::-1], y=hi[c] + lo[c][::-1], xaxis=xa, yaxis=ya,
                fill="toself", fillcolor=FILL_COLORS[d], line=dict(width=0),
                mode="lines", hoverinfo="skip"))
        for d in range(2):
            mean, lo, hi = SERIES[m][d]
            fig.add_trace(go.Scatter(
                x=WEEKS, y=mean[c], xaxis=xa, yaxis=ya, mode="lines",
                line=dict(color=LINE_COLORS[d], width=1.4), name=DOSES[d]))
        bottom_row = (r == len(MEASURES) - 1)
        first_col = (c == 0)
        layout["xaxis" + sx] = dict(
            domain=[fx(left), fx(right)], anchor=ya, range=[-2.6, 54.6],
            tickmode="array", tickvals=X_TICKS, showticklabels=bottom_row,
            ticks="outside" if bottom_row else "", ticklen=2.5, tickwidth=0.7, tickcolor="#333333",
            tickfont=dict(size=6, color="#4D4D4D"),
            showgrid=True, gridcolor="white", gridwidth=1,
            minor=dict(dtick=5, tick0=0, showgrid=True, gridcolor="white", gridwidth=0.5),
            zeroline=False, showline=False, fixedrange=True)
        layout["yaxis" + sx] = dict(
            domain=[fy(bot), fy(top)], anchor=xa, range=Y_RANGES[r],
            tickmode="linear", tick0=0, dtick=Y_DTICK[r], tickformat=Y_FORMAT[r],
            showticklabels=first_col, ticks="outside" if first_col else "",
            ticklen=2.5, tickwidth=0.7, tickcolor="#333333",
            tickfont=dict(size=6, color="#4D4D4D"),
            showgrid=True, gridcolor="white", gridwidth=1,
            minor=dict(dtick=Y_DTICK[r] / 2, tick0=0, showgrid=True, gridcolor="white", gridwidth=0.5),
            zeroline=False, showline=False, fixedrange=True)
        if r == 0:
            shapes.append(dict(type="rect", xref="paper", yref="paper",
                               x0=fx(left), x1=fx(right), y0=fy(top), y1=fy(top - STRIP_H),
                               fillcolor="#D9D9D9", line=dict(width=0), layer="below"))
            annotations.append(dict(text=FACETS[c], xref="paper", yref="paper",
                                    x=fx((left + right) / 2), y=fy(top - STRIP_H / 2),
                                    showarrow=False, xanchor="center", yanchor="middle",
                                    font=dict(size=7.7, color="#1A1A1A")))
        if c == len(FACETS) - 1:
            shapes.append(dict(type="rect", xref="paper", yref="paper",
                               x0=fx(right + 0.5), x1=fx(right + 0.5 + STRIP_W), y0=fy(bot), y1=fy(top),
                               fillcolor="#D9D9D9", line=dict(width=0), layer="below"))
            annotations.append(dict(text=m, xref="paper", yref="paper",
                                    x=fx(right + 0.5 + STRIP_W / 2), y=fy((top + bot) / 2),
                                    showarrow=False, xanchor="center", yanchor="middle", textangle=90,
                                    font=dict(size=7.7, color="#1A1A1A")))

# Title and axis titles
annotations.append(dict(text="Bootstrap [RELATIVE] treatment means with Bonferroni adjusted 95% bootstrap intervals",
                        xref="paper", yref="paper", x=fx(24), y=fy(11), xanchor="left", yanchor="middle",
                        showarrow=False, font=dict(size=10.5, color="black")))
annotations.append(dict(text="Weeks", xref="paper", yref="paper", x=fx(352), y=fy(424.5),
                        xanchor="center", yanchor="middle", showarrow=False,
                        font=dict(size=7.2, color="black")))
annotations.append(dict(text="relative.mean", xref="paper", yref="paper", x=fx(8.5), y=fy(221),
                        xanchor="center", yanchor="middle", showarrow=False, textangle=-90,
                        font=dict(size=7.2, color="black")))

# Legend (drawn manually to mimic ggplot keys)
annotations.append(dict(text="DOSE", xref="paper", yref="paper", x=fx(717), y=fy(208),
                        xanchor="left", yanchor="middle", showarrow=False,
                        font=dict(size=8, color="black")))
KEY_Y = [215.0, 227.3]
for d in range(2):
    y0 = KEY_Y[d]
    y1 = y0 + 11.7
    shapes.append(dict(type="rect", xref="paper", yref="paper", x0=fx(718), x1=fx(729.5),
                       y0=fy(y1), y1=fy(y0), fillcolor="#F2F2F2", line=dict(width=0)))
    shapes.append(dict(type="rect", xref="paper", yref="paper", x0=fx(718), x1=fx(729.5),
                       y0=fy(y1), y1=fy(y0), fillcolor=FILL_COLORS[d], line=dict(width=0)))
    shapes.append(dict(type="line", xref="paper", yref="paper", x0=fx(718.5), x1=fx(729),
                       y0=fy((y0 + y1) / 2), y1=fy((y0 + y1) / 2),
                       line=dict(color=LINE_COLORS[d], width=1.6)))
    annotations.append(dict(text=DOSES[d], xref="paper", yref="paper", x=fx(734), y=fy((y0 + y1) / 2),
                            xanchor="left", yanchor="middle", showarrow=False,
                            font=dict(size=6.3, color="#333333")))

# outer frame of the original screenshot
shapes.append(dict(type="rect", xref="paper", yref="paper", x0=fx(1.3), x1=fx(762.5),
                   y0=fy(427.5), y1=fy(2.0), line=dict(color="#C4C4C4", width=3), fillcolor="rgba(0,0,0,0)"))

layout["shapes"] = shapes
layout["annotations"] = annotations
fig.update_layout(**layout)
fig.write_html("out.html", config={"displayModeBar": False, "staticPlot": True},
               post_script="document.documentElement.style.margin='0';document.body.style.margin='0';"
                           "document.body.style.overflow='hidden';")
